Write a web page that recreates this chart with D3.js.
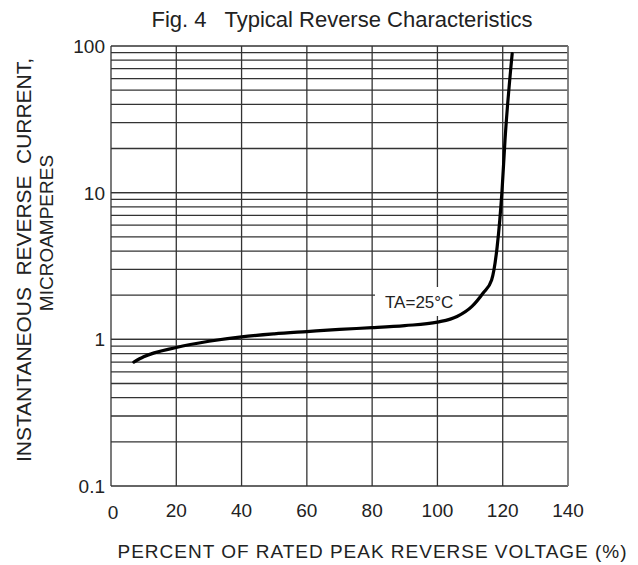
<!DOCTYPE html>
<html>
<head>
<meta charset="utf-8">
<script src="https://cdn.jsdelivr.net/npm/d3@7"></script>
<style>
  body { margin: 0; background: #fff; }
  text { font-family: "Liberation Sans", Arial, sans-serif; fill: #222; }
</style>
</head>
<body>
<div id="chart"></div>
<script>
const xTicks = [0, 20, 40, 60, 80, 100, 120, 140]
const yTicks = [0.1, 1, 10, 100]
const yTickLabels = ['0.1', '1', '10', '100']

// percent of rated PRV vs reverse current (uA), Ta = 25C
const voltage = [7, 10, 20, 30, 40, 50, 60, 70, 80, 90, 100, 106, 110.5, 114, 116.6, 118.3, 119.1, 119.8, 120.7, 122.9]
const current = [0.70, 0.76, 0.88, 0.97, 1.04, 1.09, 1.13, 1.17, 1.20, 1.24, 1.31, 1.43, 1.67, 2.07, 2.54, 4.28, 6.5, 10.4, 22.8, 88.6]

const width = 638
const height = 565

const svg = d3.select('#chart')
  .append('svg')
  .attr('width', width)
  .attr('height', height)

const x = d3.scaleLinear()
  .domain([0, 140])
  .range([111, 568])

const y = d3.scaleLog()
  .domain([0.1, 100])
  .range([486, 46])

// minor log grid: 1..9 in each decade
const hLines = []
for (let d = 0.1; d < 100; d *= 10) {
  for (let m = 1; m <= 10; m++) hLines.push(+(d * m).toPrecision(3))
}

svg.append('g')
  .selectAll('line')
  .data(hLines)
  .enter()
  .append('line')
  .attr('x1', x(0))
  .attr('x2', x(140))
  .attr('y1', d => y(d))
  .attr('y2', d => y(d))
  .attr('stroke', '#333')
  .attr('stroke-width', 1.3)

svg.append('g')
  .selectAll('line')
  .data(xTicks)
  .enter()
  .append('line')
  .attr('x1', d => x(d))
  .attr('x2', d => x(d))
  .attr('y1', y(0.1))
  .attr('y2', y(100))
  .attr('stroke', d => d === 140 ? '#777' : '#333')
  .attr('stroke-width', d => d === 140 ? 1.8 : 1.3)

// tick labels
svg.append('g')
  .selectAll('text')
  .data(xTicks)
  .enter()
  .append('text')
  .attr('x', d => x(d) + (d === 0 ? 2 : 0))
  .attr('y', d => d === 0 ? 519 : 517)
  .attr('text-anchor', 'middle')
  .style('font-size', '19px')
  .text(d => d)

svg.append('g')
  .selectAll('text')
  .data(yTicks)
  .enter()
  .append('text')
  .attr('x', 105)
  .attr('y', d => y(d) + 7)
  .attr('text-anchor', 'end')
  .style('font-size', '19px')
  .text((d, i) => yTickLabels[i])

// label box for TA=25°C
svg.append('rect')
  .attr('x', 375)
  .attr('y', 287)
  .attr('width', 84)
  .attr('height', 29)
  .attr('fill', '#fff')

svg.append('text')
  .attr('x', 385)
  .attr('y', 308)
  .style('font-size', '17px')
  .text('TA=25°C')

const line = d3.line()
  .x(d => x(d[0]))
  .y(d => y(d[1]))
  .curve(d3.curveMonotoneX)

svg.append('path')
  .datum(voltage.map((v, i) => [v, current[i]]))
  .attr('d', line)
  .attr('fill', 'none')
  .attr('stroke', '#000')
  .attr('stroke-width', 3.2)
  .attr('stroke-linecap', 'round')

// titles
svg.append('text')
  .attr('x', 342)
  .attr('y', 27)
  .attr('text-anchor', 'middle')
  .style('font-size', '22px')
  .style('white-space', 'pre')
  .text('Fig. 4   Typical Reverse Characteristics')

svg.append('text')
  .attr('x', 372)
  .attr('y', 558)
  .attr('text-anchor', 'middle')
  .style('font-size', '19px')
  .attr('textLength', 509)
  .text('PERCENT OF RATED PEAK REVERSE VOLTAGE (%)')

svg.append('text')
  .attr('transform', 'translate(31,260) rotate(-90)')
  .attr('text-anchor', 'middle')
  .style('font-size', '21px')
  .style('white-space', 'pre')
  .attr('textLength', 404)
  .text('INSTANTANEOUS  REVERSE  CURRENT,')

svg.append('text')
  .attr('transform', 'translate(53,233) rotate(-90)')
  .attr('text-anchor', 'middle')
  .style('font-size', '19px')
  .text('MICROAMPERES')
</script>
</body>
</html>
